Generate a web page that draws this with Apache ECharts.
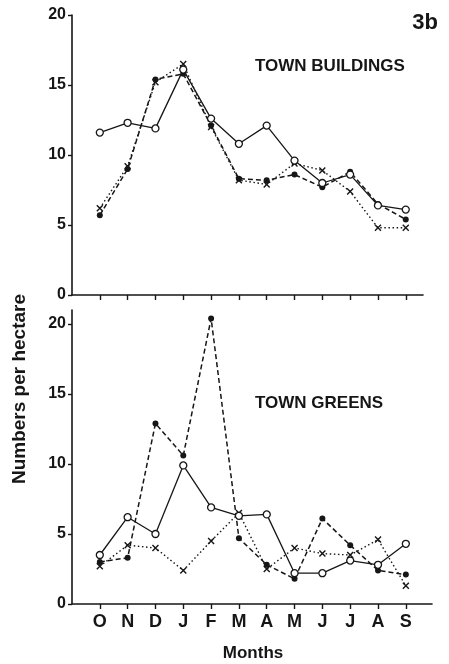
<!DOCTYPE html>
<html>
<head>
<meta charset="utf-8">
<script src="https://cdn.jsdelivr.net/npm/echarts@6/dist/echarts.min.js"></script>
<style>
  html, body { margin: 0; padding: 0; background: #ffffff; }
  #chart { width: 449px; height: 664px; }
</style>
</head>
<body>
<div id="chart"></div>
<script>
// Month categories, October to September
const months = ['O', 'N', 'D', 'J', 'F', 'M', 'A', 'M', 'J', 'J', 'A', 'S'];
const yTicks = [0, 5, 10, 15, 20];

// Town buildings (numbers per hectare)
const buildingsOpen   = [11.6, 12.3, 11.9, 16.1, 12.6, 10.8, 12.1, 9.6, 8.0, 8.6, 6.4, 6.1];
const buildingsFilled = [5.7, 9.0, 15.4, 15.8, 12.1, 8.3, 8.2, 8.6, 7.7, 8.8, 6.5, 5.4];
const buildingsCross  = [6.2, 9.2, 15.2, 16.5, 12.0, 8.2, 7.9, 9.4, 8.9, 7.4, 4.8, 4.8];

// Town greens (numbers per hectare)
const greensOpen   = [3.5, 6.2, 5.0, 9.9, 6.9, 6.3, 6.4, 2.2, 2.2, 3.1, 2.8, 4.3];
const greensFilled = [3.0, 3.3, 12.9, 10.6, 20.4, 4.7, 2.8, 1.8, 6.1, 4.2, 2.4, 2.1];
const greensCross  = [2.7, 4.2, 4.0, 2.4, 4.5, 6.5, 2.5, 4.0, 3.6, 3.5, 4.6, 1.3];

const INK = '#161616';
const FONT = '"Liberation Sans", Arial, Helvetica, sans-serif';
const monthPos = months.map((m, i) => i);

const pairs = (vals) => vals.map((v, i) => [i, v]);

function xAxisFor(gridIndex, max, showLabels) {
  return {
    type: 'value', gridIndex, min: -1, max,
    splitLine: { show: false },
    axisLine: { show: true, onZero: false, lineStyle: { color: INK, width: 1.6 } },
    axisTick: { show: true, length: 5, inside: false, customValues: monthPos,
                lineStyle: { color: INK, width: 1.4 } },
    axisLabel: {
      show: showLabels, customValues: monthPos, margin: 9,
      formatter: (v) => months[Math.round(v)] || '',
      color: INK, fontFamily: FONT, fontWeight: 'bold', fontSize: 18
    }
  };
}

function yAxisFor(gridIndex, max) {
  return {
    type: 'value', gridIndex, min: 0, max,
    splitLine: { show: false },
    axisLine: { show: true, onZero: false, lineStyle: { color: INK, width: 1.6 } },
    axisTick: { show: true, length: 4, customValues: yTicks,
                lineStyle: { color: INK, width: 1.4 } },
    axisLabel: {
      customValues: yTicks, margin: 6,
      color: INK, fontFamily: FONT, fontWeight: 'bold', fontSize: 16
    }
  };
}

function openSeries(idx, vals) {
  return {
    type: 'line', xAxisIndex: idx, yAxisIndex: idx, data: pairs(vals),
    symbol: 'circle', symbolSize: 7, clip: false, z: 4,
    itemStyle: { color: '#ffffff', borderColor: INK, borderWidth: 1.3 },
    lineStyle: { color: INK, width: 1.3, type: 'solid' },
    emphasis: { disabled: true }
  };
}

function filledSeries(idx, vals) {
  return {
    type: 'line', xAxisIndex: idx, yAxisIndex: idx, data: pairs(vals),
    symbol: 'circle', symbolSize: 6, clip: false, z: 3,
    itemStyle: { color: INK, borderColor: INK, borderWidth: 0 },
    lineStyle: { color: INK, width: 1.5, type: [5, 3] },
    emphasis: { disabled: true }
  };
}

function crossSeries(idx, vals) {
  return {
    type: 'line', xAxisIndex: idx, yAxisIndex: idx, data: pairs(vals),
    symbol: 'path://M0,0L10,10M0,10L10,0', symbolSize: 6, clip: false, z: 2,
    itemStyle: { color: INK, borderColor: INK, borderWidth: 1.4 },
    lineStyle: { color: INK, width: 1.4, type: [1.5, 2.6] },
    emphasis: { disabled: true }
  };
}

const chart = echarts.init(document.getElementById('chart'), null, { renderer: 'canvas' });

chart.setOption({
  backgroundColor: '#ffffff',
  animation: false,
  grid: [
    { left: 72, top: 15, width: 351, height: 280 },
    { left: 72, top: 310, width: 360, height: 294 }
  ],
  xAxis: [ xAxisFor(0, 11.62, false), xAxisFor(1, 11.94, true) ],
  yAxis: [ yAxisFor(0, 20), yAxisFor(1, 21) ],
  series: [
    crossSeries(0, buildingsCross),
    filledSeries(0, buildingsFilled),
    openSeries(0, buildingsOpen),
    crossSeries(1, greensCross),
    filledSeries(1, greensFilled),
    openSeries(1, greensOpen)
  ],
  graphic: [
    { type: 'text', x: 438, y: 23, style: { text: '3b', fill: INK, font: 'bold 22px ' + FONT,
      textAlign: 'right', textVerticalAlign: 'middle' } },
    { type: 'text', x: 255, y: 66, style: { text: 'TOWN BUILDINGS', fill: INK, font: 'bold 17px ' + FONT,
      textAlign: 'left', textVerticalAlign: 'middle' } },
    { type: 'text', x: 255, y: 403, style: { text: 'TOWN GREENS', fill: INK, font: 'bold 17px ' + FONT,
      textAlign: 'left', textVerticalAlign: 'middle' } },
    { type: 'text', x: 253, y: 653, style: { text: 'Months', fill: INK, font: 'bold 17px ' + FONT,
      textAlign: 'center', textVerticalAlign: 'middle' } },
    { type: 'text', x: 20, y: 389, rotation: Math.PI / 2,
      style: { text: 'Numbers per hectare', fill: INK, font: 'bold 19px ' + FONT,
      textAlign: 'center', textVerticalAlign: 'middle' } }
  ]
});
</script>
</body>
</html>
